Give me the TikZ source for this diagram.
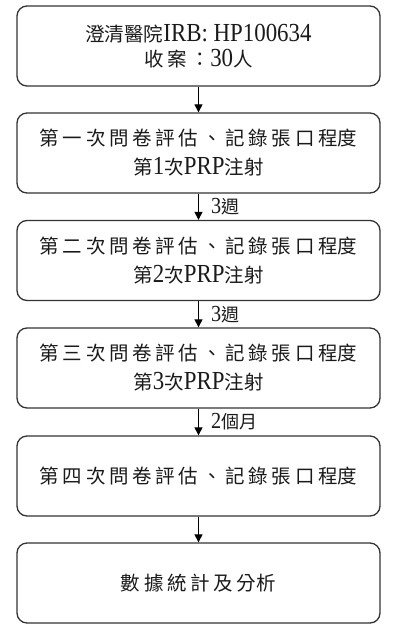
\documentclass[tikz,border=0pt]{standalone}
\usepackage{fontspec}
\setmainfont{Liberation Serif}[FakeStretch=0.88]
\newfontfamily\cjk{Noto Sans CJK TC}
\newfontfamily\cjks{Noto Sans CJK TC}[LetterSpace=19]
\usetikzlibrary{arrows.meta}
\newcommand\ZS[1]{{\cjks\fontsize{19.5pt}{19.5pt}\selectfont #1}}
\newcommand\ZN[1]{{\cjk\fontsize{19.5pt}{19.5pt}\selectfont #1}}
\newcommand\LT[1]{{\fontsize{26pt}{26pt}\selectfont #1}}
\newcommand\ZL[1]{{\cjk\fontsize{18pt}{18pt}\selectfont #1}}
\newcommand\LL[1]{{\fontsize{23pt}{23pt}\selectfont #1}}
\definecolor{boxline}{HTML}{333333}
\definecolor{txt}{HTML}{1A1A1A}
\tikzset{
  stepbox/.style={draw=boxline, line width=1.3pt, rounded corners=10pt,
    minimum width=363pt, minimum height=80pt, align=center, text=txt,
    inner sep=0pt, font=\fontsize{19.5pt}{29pt}\selectfont},
  arr/.style={draw=black, line width=1pt, -{Triangle[width=8pt,length=8pt]}},
  lab/.style={text=txt, inner sep=0pt, xshift=12pt}
}
\begin{document}
\begin{tikzpicture}[x=1pt,y=-1pt]
\useasboundingbox (0,0) rectangle (400,630);
\node[stepbox, font=\fontsize{19.5pt}{25pt}\selectfont] (b1) at (198.5,46)
  {\ZN{澄清醫院}\LT{IRB:\ HP100634}\\ \ZS{收案：}\LT{30}\ZN{人}};
\node[stepbox] (b2) at (198.5,153)
  {\ZS{第一次問卷評估、記錄張口程}\ZN{度}\\ \ZS{第}\LT{1}\ZS{次}\LT{PRP}\ZS{注}\ZN{射}};
\node[stepbox] (b3) at (198.5,260.5)
  {\ZS{第二次問卷評估、記錄張口程}\ZN{度}\\ \ZS{第}\LT{2}\ZS{次}\LT{PRP}\ZS{注}\ZN{射}};
\node[stepbox] (b4) at (198.5,368)
  {\ZS{第三次問卷評估、記錄張口程}\ZN{度}\\ \ZS{第}\LT{3}\ZS{次}\LT{PRP}\ZS{注}\ZN{射}};
\node[stepbox] (b5) at (198.5,476)
  {\ZS{第四次問卷評估、記錄張口程}\ZN{度}};
\node[stepbox] (b6) at (198.5,583)
  {\ZS{數據統計及分}\ZN{析}};
\draw[arr] (b1) -- (b2);
\draw[arr] (b2) -- node[lab, right] {\LL{3}\ZL{週}} (b3);
\draw[arr] (b3) -- node[lab, right] {\LL{3}\ZL{週}} (b4);
\draw[arr] (b4) -- node[lab, right] {\LL{2}\ZL{個月}} (b5);
\draw[arr] (b5) -- (b6);
\end{tikzpicture}
\end{document}
